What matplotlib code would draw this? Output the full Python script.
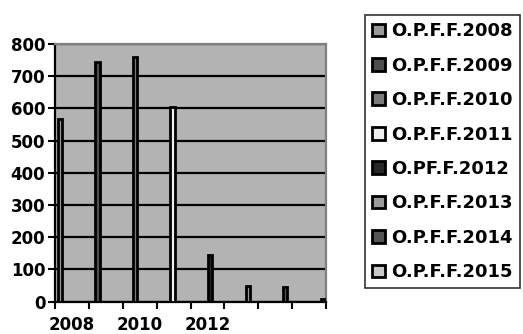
import numpy as np
import matplotlib
matplotlib.use("Agg")
import matplotlib.pyplot as plt

# values
series = ["O.P.F.F.2008", "O.P.F.F.2009", "O.P.F.F.2010", "O.P.F.F.2011",
          "O.PF.F.2012", "O.P.F.F.2013", "O.P.F.F.2014", "O.P.F.F.2015"]
values = [567, 745, 761, 605, 145, 50, 47, 7]
colors = ["#999999", "#4d4d4d", "#7a7a7a", "#eeeeee",
          "#262626", "#9a9a9a", "#555555", "#c8c8c8"]
xlabels = ["2008", "", "2010", "", "2012", "", "", ""]
yticks = [0, 100, 200, 300, 400, 500, 600, 700, 800]

plt.rcParams["font.family"] = "DejaVu Sans"
plt.rcParams["font.weight"] = "bold"

fig = plt.figure(figsize=(5.23, 3.34), dpi=100)
ax = fig.add_axes([55 / 523, 1 - 301.7 / 334, 271 / 523, 257.7 / 334])
ax.set_facecolor("#b3b3b3")

x = np.arange(len(values))
for i in range(len(values)):
    ax.bar(x[i], values[i], width=0.11, color=colors[i], edgecolor="black",
           linewidth=2, label=series[i], zorder=3)

left, right = -0.133, 7.09
ax.set_xlim(left, right)
ax.set_ylim(0, 800)

# category axis: ticks on boundaries, labels in the middle of intervals
bounds = np.linspace(left, right, 9)
ax.set_xticks(bounds)
ax.set_xticklabels([])
ax.set_xticks((bounds[:-1] + bounds[1:]) / 2, minor=True)
ax.set_xticklabels(xlabels, minor=True)
ax.tick_params(axis="x", which="minor", length=0, pad=10, labelsize=12)
ax.tick_params(axis="x", which="major", length=5, width=1.5, direction="out")

ax.set_yticks(yticks)
ax.tick_params(axis="y", length=5, width=1.5, direction="out", labelsize=12, pad=2)
ax.yaxis.grid(True, color="black", linewidth=1.6, zorder=1)
ax.set_axisbelow(True)

for s in ["left", "bottom"]:
    ax.spines[s].set_color("black")
    ax.spines[s].set_linewidth(1.6)
for s in ["top", "right"]:
    ax.spines[s].set_color("#808080")
    ax.spines[s].set_linewidth(1.6)

leg = fig.legend(loc="upper left", bbox_to_anchor=(365 / 523, 1 - 15 / 334),
                 fancybox=False, edgecolor="black", fontsize=13,
                 handlelength=0.7, handleheight=0.7, handletextpad=0.35,
                 labelspacing=0.91, borderpad=0.4, borderaxespad=0)
leg.get_frame().set_linewidth(1.2)

fig.savefig("out.png", dpi=100, facecolor="white")
